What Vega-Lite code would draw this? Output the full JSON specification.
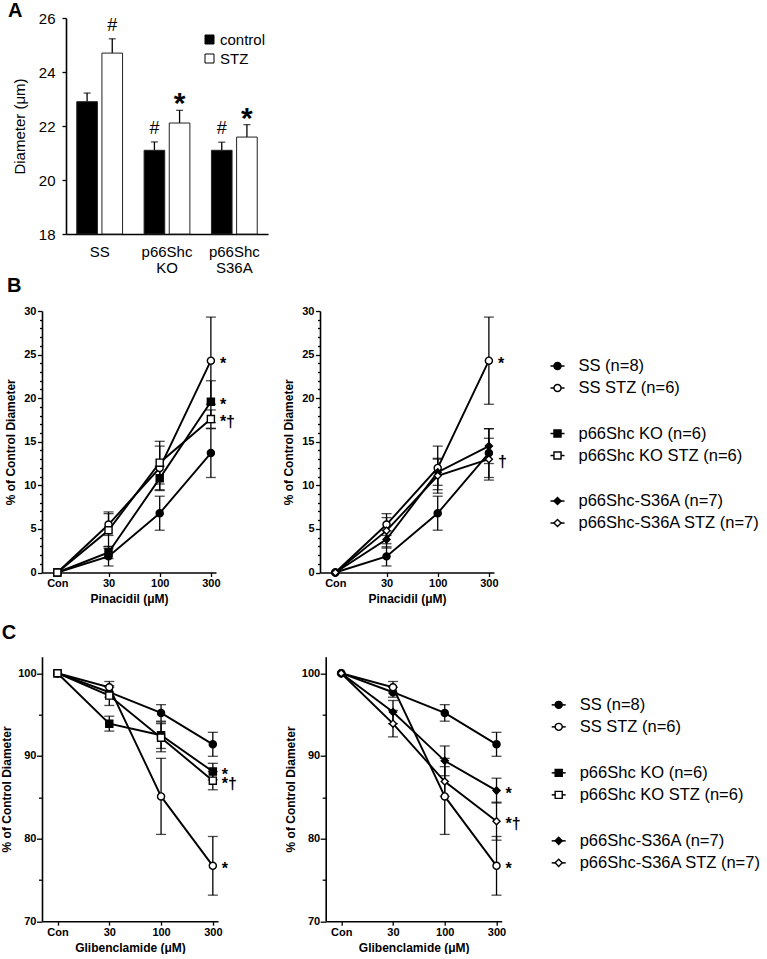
{
  "$schema": "https://vega.github.io/schema/vega-lite/v6.json",
  "background": "white",
  "padding": {"left": 0, "top": 0, "right": 0, "bottom": 0},
  "config": {
    "font": "Liberation Sans",
    "view": {"stroke": null},
    "axis": {"grid": false, "domainColor": "black", "domainWidth": 1.6, "tickColor": "black", "tickWidth": 1.3, "labelColor": "black", "titleColor": "black"},
    "title": {"color": "black", "fontSize": 20, "fontWeight": "bold", "anchor": "start"}
  },
  "datasets": {
    "barA": [
      {"group": "SS", "status": "control", "mean": 22.9, "upper": 23.22, "sig": ""},
      {"group": "SS", "status": "STZ", "mean": 24.7, "upper": 25.23, "sig": "#"},
      {"group": "p66Shc KO", "status": "control", "mean": 21.1, "upper": 21.41, "sig": "#"},
      {"group": "p66Shc KO", "status": "STZ", "mean": 22.11, "upper": 22.58, "sig": "*"},
      {"group": "p66Shc S36A", "status": "control", "mean": 21.1, "upper": 21.4, "sig": "#"},
      {"group": "p66Shc S36A", "status": "STZ", "mean": 21.59, "upper": 22.05, "sig": "*"}
    ],
    "pin": [
      {"strain": "SS", "status": "control", "series": "SS (n=8)", "dose": "Con", "mean": 0, "err": 0, "sig": ""},
      {"strain": "SS", "status": "control", "series": "SS (n=8)", "dose": "30", "mean": 1.85, "err": 1.1, "sig": ""},
      {"strain": "SS", "status": "control", "series": "SS (n=8)", "dose": "100", "mean": 6.8, "err": 1.95, "sig": ""},
      {"strain": "SS", "status": "control", "series": "SS (n=8)", "dose": "300", "mean": 13.7, "err": 2.8, "sig": ""},
      {"strain": "SS", "status": "STZ", "series": "SS STZ (n=6)", "dose": "Con", "mean": 0, "err": 0, "sig": ""},
      {"strain": "SS", "status": "STZ", "series": "SS STZ (n=6)", "dose": "30", "mean": 5.5, "err": 1.25, "sig": ""},
      {"strain": "SS", "status": "STZ", "series": "SS STZ (n=6)", "dose": "100", "mean": 12.0, "err": 2.5, "sig": ""},
      {"strain": "SS", "status": "STZ", "series": "SS STZ (n=6)", "dose": "300", "mean": 24.3, "err": 5.0, "sig": "*"},
      {"strain": "KO", "status": "control", "series": "p66Shc KO (n=6)", "dose": "Con", "mean": 0, "err": 0, "sig": ""},
      {"strain": "KO", "status": "control", "series": "p66Shc KO (n=6)", "dose": "30", "mean": 2.3, "err": 0.7, "sig": ""},
      {"strain": "KO", "status": "control", "series": "p66Shc KO (n=6)", "dose": "100", "mean": 10.8, "err": 1.4, "sig": ""},
      {"strain": "KO", "status": "control", "series": "p66Shc KO (n=6)", "dose": "300", "mean": 19.6, "err": 2.4, "sig": "*"},
      {"strain": "KO", "status": "STZ", "series": "p66Shc KO STZ (n=6)", "dose": "Con", "mean": 0, "err": 0, "sig": ""},
      {"strain": "KO", "status": "STZ", "series": "p66Shc KO STZ (n=6)", "dose": "30", "mean": 4.85, "err": 2.1, "sig": ""},
      {"strain": "KO", "status": "STZ", "series": "p66Shc KO STZ (n=6)", "dose": "100", "mean": 12.6, "err": 2.45, "sig": ""},
      {"strain": "KO", "status": "STZ", "series": "p66Shc KO STZ (n=6)", "dose": "300", "mean": 17.6, "err": 1.05, "sig": "*†"},
      {"strain": "S36A", "status": "control", "series": "p66Shc-S36A (n=7)", "dose": "Con", "mean": 0, "err": 0, "sig": ""},
      {"strain": "S36A", "status": "control", "series": "p66Shc-S36A (n=7)", "dose": "30", "mean": 3.8, "err": 1.0, "sig": ""},
      {"strain": "S36A", "status": "control", "series": "p66Shc-S36A (n=7)", "dose": "100", "mean": 11.5, "err": 1.5, "sig": ""},
      {"strain": "S36A", "status": "control", "series": "p66Shc-S36A (n=7)", "dose": "300", "mean": 14.5, "err": 2.0, "sig": ""},
      {"strain": "S36A", "status": "STZ", "series": "p66Shc-S36A STZ (n=7)", "dose": "Con", "mean": 0, "err": 0, "sig": ""},
      {"strain": "S36A", "status": "STZ", "series": "p66Shc-S36A STZ (n=7)", "dose": "30", "mean": 4.8, "err": 1.5, "sig": ""},
      {"strain": "S36A", "status": "STZ", "series": "p66Shc-S36A STZ (n=7)", "dose": "100", "mean": 11.1, "err": 2.0, "sig": ""},
      {"strain": "S36A", "status": "STZ", "series": "p66Shc-S36A STZ (n=7)", "dose": "300", "mean": 13.0, "err": 2.4, "sig": "†"}
    ],
    "glib": [
      {"strain": "SS", "status": "control", "series": "SS (n=8)", "dose": "Con", "mean": 100, "err": 0, "sig": ""},
      {"strain": "SS", "status": "control", "series": "SS (n=8)", "dose": "30", "mean": 97.7, "err": 0.6, "sig": ""},
      {"strain": "SS", "status": "control", "series": "SS (n=8)", "dose": "100", "mean": 95.2, "err": 1.0, "sig": ""},
      {"strain": "SS", "status": "control", "series": "SS (n=8)", "dose": "300", "mean": 91.4, "err": 1.45, "sig": ""},
      {"strain": "SS", "status": "STZ", "series": "SS STZ (n=6)", "dose": "Con", "mean": 100, "err": 0, "sig": ""},
      {"strain": "SS", "status": "STZ", "series": "SS STZ (n=6)", "dose": "30", "mean": 98.3, "err": 0.7, "sig": ""},
      {"strain": "SS", "status": "STZ", "series": "SS STZ (n=6)", "dose": "100", "mean": 85.1, "err": 4.6, "sig": ""},
      {"strain": "SS", "status": "STZ", "series": "SS STZ (n=6)", "dose": "300", "mean": 76.7, "err": 3.55, "sig": "*"},
      {"strain": "KO", "status": "control", "series": "p66Shc KO (n=6)", "dose": "Con", "mean": 100, "err": 0, "sig": ""},
      {"strain": "KO", "status": "control", "series": "p66Shc KO (n=6)", "dose": "30", "mean": 93.9, "err": 0.9, "sig": ""},
      {"strain": "KO", "status": "control", "series": "p66Shc KO (n=6)", "dose": "100", "mean": 92.5, "err": 1.6, "sig": ""},
      {"strain": "KO", "status": "control", "series": "p66Shc KO (n=6)", "dose": "300", "mean": 88.1, "err": 1.0, "sig": "*"},
      {"strain": "KO", "status": "STZ", "series": "p66Shc KO STZ (n=6)", "dose": "Con", "mean": 100, "err": 0, "sig": ""},
      {"strain": "KO", "status": "STZ", "series": "p66Shc KO STZ (n=6)", "dose": "30", "mean": 97.3, "err": 1.2, "sig": ""},
      {"strain": "KO", "status": "STZ", "series": "p66Shc KO STZ (n=6)", "dose": "100", "mean": 92.2, "err": 1.7, "sig": ""},
      {"strain": "KO", "status": "STZ", "series": "p66Shc KO STZ (n=6)", "dose": "300", "mean": 87.0, "err": 1.1, "sig": "*†"},
      {"strain": "S36A", "status": "control", "series": "p66Shc-S36A (n=7)", "dose": "Con", "mean": 100, "err": 0, "sig": ""},
      {"strain": "S36A", "status": "control", "series": "p66Shc-S36A (n=7)", "dose": "30", "mean": 95.3, "err": 1.4, "sig": ""},
      {"strain": "S36A", "status": "control", "series": "p66Shc-S36A (n=7)", "dose": "100", "mean": 89.4, "err": 1.8, "sig": ""},
      {"strain": "S36A", "status": "control", "series": "p66Shc-S36A (n=7)", "dose": "300", "mean": 85.8, "err": 1.5, "sig": "*"},
      {"strain": "S36A", "status": "STZ", "series": "p66Shc-S36A STZ (n=7)", "dose": "Con", "mean": 100, "err": 0, "sig": ""},
      {"strain": "S36A", "status": "STZ", "series": "p66Shc-S36A STZ (n=7)", "dose": "30", "mean": 93.9, "err": 1.6, "sig": ""},
      {"strain": "S36A", "status": "STZ", "series": "p66Shc-S36A STZ (n=7)", "dose": "100", "mean": 86.9, "err": 1.8, "sig": ""},
      {"strain": "S36A", "status": "STZ", "series": "p66Shc-S36A STZ (n=7)", "dose": "300", "mean": 82.1, "err": 2.3, "sig": "*†"}
    ],
    "leg": [
      {"strain": "SS", "status": "control", "label": "SS (n=8)"},
      {"strain": "SS", "status": "STZ", "label": "SS STZ (n=6)"},
      {"strain": "KO", "status": "control", "label": "p66Shc KO (n=6)"},
      {"strain": "KO", "status": "STZ", "label": "p66Shc KO STZ (n=6)"},
      {"strain": "S36A", "status": "control", "label": "p66Shc-S36A (n=7)"},
      {"strain": "S36A", "status": "STZ", "label": "p66Shc-S36A STZ (n=7)"}
    ]
  },
  "resolve": {"scale": {"fill": "independent"}, "legend": {"fill": "independent"}},
  "columns": 1,
  "align": "none",
  "spacing": 0,
  "concat": [
    {
      "title": {"text": "A", "frame": "group", "dx": -34, "offset": -25.5, "baseline": "alphabetic"},
      "width": 226,
      "height": 216,
      "data": {"name": "barA"},
      "encoding": {
        "x": {"field": "group", "type": "nominal", "sort": ["SS", "p66Shc KO", "p66Shc S36A"], "scale": {"range": [24, 226], "paddingInner": 0.32, "paddingOuter": 0.16}, "axis": {"title": null, "labelAngle": 0, "ticks": false, "tickSize": 0, "labelFontSize": 15, "labelPadding": 10, "labelLineHeight": 16, "labelExpr": "split(datum.label, ' ')"}},
        "xOffset": {"field": "status", "type": "nominal", "sort": ["control", "STZ"], "scale": {"paddingInner": 0.18, "paddingOuter": 0}}
      },
      "layer": [
        {
          "mark": {"type": "rule", "color": "black", "strokeWidth": 1.3},
          "encoding": {
            "y": {"field": "mean", "type": "quantitative", "scale": {"domain": [18, 26], "nice": false, "zero": false}, "axis": {"title": "Diameter (μm)", "offset": -24, "values": [18, 19, 20, 21, 22, 23, 24, 25, 26], "labelExpr": "datum.value % 2 === 0 ? datum.label : ''", "tickSize": 4, "labelFontSize": 15, "labelPadding": 7, "titleFontSize": 15, "titleFontWeight": "normal", "titlePadding": 11, "labelOverlap": false, "labelFlush": false}},
            "y2": {"field": "upper"}
          }
        },
        {
          "mark": {"type": "tick", "orient": "horizontal", "color": "black", "size": 7, "thickness": 1.3},
          "encoding": {"y": {"field": "upper", "type": "quantitative"}}
        },
        {
          "mark": {"type": "bar", "stroke": "#222222", "strokeWidth": 1},
          "encoding": {
            "y": {"field": "mean", "type": "quantitative"},
            "y2": {"datum": 18},
            "fill": {"field": "status", "type": "nominal", "scale": {"domain": ["control", "STZ"], "range": ["black", "white"]}, "legend": {"title": null, "orient": "none", "legendX": 160, "legendY": 14, "padding": 0, "symbolType": "square", "symbolSize": 81, "symbolStrokeColor": "black", "symbolStrokeWidth": 1, "labelFontSize": 15, "labelOffset": 3, "rowPadding": 3, "labelColor": "black"}}
          }
        },
        {
          "transform": [{"filter": "datum.sig === '#'"}],
          "mark": {"type": "text", "fontSize": 18, "baseline": "alphabetic", "dy": -8, "color": "black"},
          "encoding": {"y": {"field": "upper", "type": "quantitative"}, "text": {"field": "sig", "type": "nominal"}}
        },
        {
          "transform": [{"filter": "datum.sig === '*'"}],
          "mark": {"type": "text", "fontSize": 30, "fontWeight": "bold", "baseline": "alphabetic", "dy": 3, "color": "black"},
          "encoding": {"y": {"field": "upper", "type": "quantitative"}, "text": {"field": "sig", "type": "nominal"}}
        }
      ]
    },
    {
      "columns": 1,
      "align": "none",
      "spacing": 17.7,
      "concat": [
        {
          "title": {"text": "B", "dx": 2, "offset": -6.5, "baseline": "alphabetic"},
          "spacing": 46,
          "hconcat": [
            {
              "width": 174,
              "height": 261.5,
              "data": {"name": "pin"},
              "transform": [{"filter": "datum.strain !== 'S36A'"}],
              "encoding": {
                "x": {"field": "dose", "type": "ordinal", "sort": ["Con", "30", "100", "300"], "scale": {"type": "point", "padding": 0.2, "align": 0.75}, "axis": {"title": "Pinacidil (μM)", "labelAngle": 0, "labelFontSize": 11, "labelFontWeight": "bold", "titleFontSize": 12, "titleFontWeight": "bold", "tickSize": 4, "labelPadding": 1, "titlePadding": 5}},
                "y": {"field": "mean", "type": "quantitative", "scale": {"domain": [0, 30], "nice": false, "zero": false}, "axis": {"title": "% of Control Diameter", "values": [0, 1, 2, 3, 4, 5, 6, 7, 8, 9, 10, 11, 12, 13, 14, 15, 16, 17, 18, 19, 20, 21, 22, 23, 24, 25, 26, 27, 28, 29, 30], "labelExpr": "datum.value % 5 === 0 ? datum.label : ''", "tickSize": {"condition": {"test": "datum.value % 5 === 0", "value": 4.5}, "value": 2.5}, "labelFontSize": 11, "labelFontWeight": "bold", "labelPadding": 1.5, "titleFontSize": 12, "titleFontWeight": "bold", "titlePadding": 5.8, "labelOverlap": false, "labelFlush": false}}
              },
              "layer": [
                {"mark": {"type": "line", "color": "black", "strokeWidth": 1.9}, "encoding": {"detail": {"field": "series", "type": "nominal"}, "order": {"value": null}}},
                {"transform": [{"filter": "datum.dose !== 'Con'"}], "mark": {"type": "errorbar", "color": "black", "thickness": 1.3, "ticks": {"size": 10, "thickness": 1.3, "color": "black"}}, "encoding": {"yError": {"field": "err"}}},
                {"mark": {"type": "point", "filled": true, "stroke": "black", "strokeWidth": 1.4, "opacity": 1}, "encoding": {
                  "shape": {"field": "strain", "type": "nominal", "scale": {"domain": ["SS", "KO", "S36A"], "range": ["circle", "square", "diamond"]}, "legend": null},
                  "fill": {"field": "status", "type": "nominal", "scale": {"domain": ["control", "STZ"], "range": ["black", "white"]}, "legend": null},
                  "size": {"field": "strain", "type": "ordinal", "scale": {"domain": ["SS", "KO", "S36A"], "range": [50, 50, 64]}, "legend": null}
                }},
                {"transform": [{"filter": "datum.dose === '300' && datum.sig !== ''"}], "mark": {"type": "text", "align": "left", "baseline": "middle", "dx": 9, "dy": 3, "fontSize": 16, "fontWeight": "bold", "color": "black"}, "encoding": {"text": {"field": "sig", "type": "nominal"}}}
              ]
            },
            {
              "width": 174,
              "height": 261.5,
              "resolve": {"scale": {"x": "independent", "y": "independent"}},
              "layer": [
                {
                  "data": {"name": "pin"},
                  "transform": [{"filter": "datum.strain !== 'KO'"}],
                  "encoding": {
                    "x": {"field": "dose", "type": "ordinal", "sort": ["Con", "30", "100", "300"], "scale": {"type": "point", "padding": 0.2, "align": 0.75}, "axis": {"title": "Pinacidil (μM)", "labelAngle": 0, "labelFontSize": 11, "labelFontWeight": "bold", "titleFontSize": 12, "titleFontWeight": "bold", "tickSize": 4, "labelPadding": 1, "titlePadding": 5}},
                    "y": {"field": "mean", "type": "quantitative", "scale": {"domain": [0, 30], "nice": false, "zero": false}, "axis": {"title": "% of Control Diameter", "values": [0, 1, 2, 3, 4, 5, 6, 7, 8, 9, 10, 11, 12, 13, 14, 15, 16, 17, 18, 19, 20, 21, 22, 23, 24, 25, 26, 27, 28, 29, 30], "labelExpr": "datum.value % 5 === 0 ? datum.label : ''", "tickSize": {"condition": {"test": "datum.value % 5 === 0", "value": 4.5}, "value": 2.5}, "labelFontSize": 11, "labelFontWeight": "bold", "labelPadding": 1.5, "titleFontSize": 12, "titleFontWeight": "bold", "titlePadding": 5.8, "labelOverlap": false, "labelFlush": false}}
                  },
                  "layer": [
                    {"mark": {"type": "line", "color": "black", "strokeWidth": 1.9}, "encoding": {"detail": {"field": "series", "type": "nominal"}, "order": {"value": null}}},
                    {"transform": [{"filter": "datum.dose !== 'Con'"}], "mark": {"type": "errorbar", "color": "black", "thickness": 1.3, "ticks": {"size": 10, "thickness": 1.3, "color": "black"}}, "encoding": {"yError": {"field": "err"}}},
                    {"mark": {"type": "point", "filled": true, "stroke": "black", "strokeWidth": 1.4, "opacity": 1}, "encoding": {
                      "shape": {"field": "strain", "type": "nominal", "scale": {"domain": ["SS", "KO", "S36A"], "range": ["circle", "square", "diamond"]}, "legend": null},
                      "fill": {"field": "status", "type": "nominal", "scale": {"domain": ["control", "STZ"], "range": ["black", "white"]}, "legend": null},
                      "size": {"field": "strain", "type": "ordinal", "scale": {"domain": ["SS", "KO", "S36A"], "range": [50, 50, 64]}, "legend": null}
                    }},
                    {"transform": [{"filter": "datum.dose === '300' && datum.sig !== ''"}], "mark": {"type": "text", "align": "left", "baseline": "middle", "dx": 9, "dy": 3, "fontSize": 16, "fontWeight": "bold", "color": "black"}, "encoding": {"text": {"field": "sig", "type": "nominal"}}}
                  ]
                },
                {
                  "data": {"name": "leg"},
                  "encoding": {
                    "y": {"field": "strain", "type": "nominal", "sort": ["SS", "KO", "S36A"], "scale": {"type": "band", "paddingInner": 0, "paddingOuter": 0.437, "align": 0.547}, "axis": null},
                    "yOffset": {"field": "status", "type": "nominal", "sort": ["control", "STZ"], "scale": {"type": "band", "paddingInner": 0, "paddingOuter": 0.534}}
                  },
                  "layer": [
                    {"mark": {"type": "point", "shape": "M-1,0L1,0", "size": 196, "filled": false, "stroke": "black", "strokeWidth": 1.5, "opacity": 1}, "encoding": {"x": {"datum": 0, "type": "quantitative", "scale": {"domain": [-11.31, -3.024], "nice": false, "zero": false}, "axis": null}}},
                    {"mark": {"type": "point", "filled": true, "stroke": "black", "strokeWidth": 1.4, "opacity": 1}, "encoding": {
                      "x": {"datum": 0, "type": "quantitative", "scale": {"domain": [-11.31, -3.024], "nice": false, "zero": false}, "axis": null},
                      "shape": {"field": "strain", "type": "nominal", "scale": {"domain": ["SS", "KO", "S36A"], "range": ["circle", "square", "diamond"]}, "legend": null},
                      "fill": {"field": "status", "type": "nominal", "scale": {"domain": ["control", "STZ"], "range": ["black", "white"]}, "legend": null},
                      "size": {"field": "strain", "type": "ordinal", "scale": {"domain": ["SS", "KO", "S36A"], "range": [50, 50, 64]}, "legend": null}
                    }},
                    {"mark": {"type": "text", "align": "left", "baseline": "middle", "fontSize": 16.5, "color": "black"}, "encoding": {"x": {"datum": 1, "type": "quantitative", "scale": {"domain": [-11.31, -3.024], "nice": false, "zero": false}, "axis": null}, "text": {"field": "label", "type": "nominal"}}}
                  ]
                }
              ]
            }
          ]
        },
        {
          "title": {"text": "C", "dx": 1, "offset": -2, "baseline": "alphabetic"},
          "spacing": 46.7,
          "hconcat": [
            {
              "width": 176,
              "height": 264.5,
              "data": {"name": "glib"},
              "transform": [{"filter": "datum.strain !== 'S36A'"}],
              "encoding": {
                "x": {"field": "dose", "type": "ordinal", "sort": ["Con", "30", "100", "300"], "scale": {"type": "point", "padding": 0.2, "align": 0.75}, "axis": {"title": "Glibenclamide (μM)", "labelAngle": 0, "labelFontSize": 11, "labelFontWeight": "bold", "titleFontSize": 12, "titleFontWeight": "bold", "tickSize": 4, "labelPadding": 1, "titlePadding": 5}},
                "y": {"field": "mean", "type": "quantitative", "scale": {"domain": [70, 102], "nice": false, "zero": false}, "axis": {"title": "% of Control Diameter", "values": [70, 75, 80, 85, 90, 95, 100], "labelExpr": "datum.value % 10 === 0 ? datum.label : ''", "tickSize": {"condition": {"test": "datum.value % 10 === 0", "value": 5.5}, "value": 3.5}, "labelFontSize": 11, "labelFontWeight": "bold", "labelPadding": 0.5, "titleFontSize": 12, "titleFontWeight": "bold", "titlePadding": 4, "labelOverlap": false, "labelFlush": false}}
              },
              "layer": [
                {"mark": {"type": "line", "color": "black", "strokeWidth": 1.9}, "encoding": {"detail": {"field": "series", "type": "nominal"}, "order": {"value": null}}},
                {"transform": [{"filter": "datum.dose !== 'Con'"}], "mark": {"type": "errorbar", "color": "black", "thickness": 1.3, "ticks": {"size": 10, "thickness": 1.3, "color": "black"}}, "encoding": {"yError": {"field": "err"}}},
                {"mark": {"type": "point", "filled": true, "stroke": "black", "strokeWidth": 1.4, "opacity": 1}, "encoding": {
                  "shape": {"field": "strain", "type": "nominal", "scale": {"domain": ["SS", "KO", "S36A"], "range": ["circle", "square", "diamond"]}, "legend": null},
                  "fill": {"field": "status", "type": "nominal", "scale": {"domain": ["control", "STZ"], "range": ["black", "white"]}, "legend": null},
                  "size": {"field": "strain", "type": "ordinal", "scale": {"domain": ["SS", "KO", "S36A"], "range": [50, 50, 64]}, "legend": null}
                }},
                {"transform": [{"filter": "datum.dose === '300' && datum.sig !== ''"}], "mark": {"type": "text", "align": "left", "baseline": "middle", "dx": 9, "dy": 3, "fontSize": 16, "fontWeight": "bold", "color": "black"}, "encoding": {"text": {"field": "sig", "type": "nominal"}}}
              ]
            },
            {
              "width": 176,
              "height": 264.5,
              "resolve": {"scale": {"x": "independent", "y": "independent"}},
              "layer": [
                {
                  "data": {"name": "glib"},
                  "transform": [{"filter": "datum.strain !== 'KO'"}],
                  "encoding": {
                    "x": {"field": "dose", "type": "ordinal", "sort": ["Con", "30", "100", "300"], "scale": {"type": "point", "padding": 0.2, "align": 0.75}, "axis": {"title": "Glibenclamide (μM)", "labelAngle": 0, "labelFontSize": 11, "labelFontWeight": "bold", "titleFontSize": 12, "titleFontWeight": "bold", "tickSize": 4, "labelPadding": 1, "titlePadding": 5}},
                    "y": {"field": "mean", "type": "quantitative", "scale": {"domain": [70, 102], "nice": false, "zero": false}, "axis": {"title": "% of Control Diameter", "values": [70, 75, 80, 85, 90, 95, 100], "labelExpr": "datum.value % 10 === 0 ? datum.label : ''", "tickSize": {"condition": {"test": "datum.value % 10 === 0", "value": 5.5}, "value": 3.5}, "labelFontSize": 11, "labelFontWeight": "bold", "labelPadding": 0.5, "titleFontSize": 12, "titleFontWeight": "bold", "titlePadding": 4, "labelOverlap": false, "labelFlush": false}}
                  },
                  "layer": [
                    {"mark": {"type": "line", "color": "black", "strokeWidth": 1.9}, "encoding": {"detail": {"field": "series", "type": "nominal"}, "order": {"value": null}}},
                    {"transform": [{"filter": "datum.dose !== 'Con'"}], "mark": {"type": "errorbar", "color": "black", "thickness": 1.3, "ticks": {"size": 10, "thickness": 1.3, "color": "black"}}, "encoding": {"yError": {"field": "err"}}},
                    {"mark": {"type": "point", "filled": true, "stroke": "black", "strokeWidth": 1.4, "opacity": 1}, "encoding": {
                      "shape": {"field": "strain", "type": "nominal", "scale": {"domain": ["SS", "KO", "S36A"], "range": ["circle", "square", "diamond"]}, "legend": null},
                      "fill": {"field": "status", "type": "nominal", "scale": {"domain": ["control", "STZ"], "range": ["black", "white"]}, "legend": null},
                      "size": {"field": "strain", "type": "ordinal", "scale": {"domain": ["SS", "KO", "S36A"], "range": [50, 50, 64]}, "legend": null}
                    }},
                    {"transform": [{"filter": "datum.dose === '300' && datum.sig !== ''"}], "mark": {"type": "text", "align": "left", "baseline": "middle", "dx": 9, "dy": 3, "fontSize": 16, "fontWeight": "bold", "color": "black"}, "encoding": {"text": {"field": "sig", "type": "nominal"}}}
                  ]
                },
                {
                  "data": {"name": "leg"},
                  "encoding": {
                    "y": {"field": "strain", "type": "nominal", "sort": ["SS", "KO", "S36A"], "scale": {"type": "band", "paddingInner": 0, "paddingOuter": 0.445, "align": 0.42}, "axis": null},
                    "yOffset": {"field": "status", "type": "nominal", "sort": ["control", "STZ"], "scale": {"type": "band", "paddingInner": 0, "paddingOuter": 0.534}}
                  },
                  "layer": [
                    {"mark": {"type": "point", "shape": "M-1,0L1,0", "size": 196, "filled": false, "stroke": "black", "strokeWidth": 1.5, "opacity": 1}, "encoding": {"x": {"datum": 0, "type": "quantitative", "scale": {"domain": [-11.095, -2.714], "nice": false, "zero": false}, "axis": null}}},
                    {"mark": {"type": "point", "filled": true, "stroke": "black", "strokeWidth": 1.4, "opacity": 1}, "encoding": {
                      "x": {"datum": 0, "type": "quantitative", "scale": {"domain": [-11.095, -2.714], "nice": false, "zero": false}, "axis": null},
                      "shape": {"field": "strain", "type": "nominal", "scale": {"domain": ["SS", "KO", "S36A"], "range": ["circle", "square", "diamond"]}, "legend": null},
                      "fill": {"field": "status", "type": "nominal", "scale": {"domain": ["control", "STZ"], "range": ["black", "white"]}, "legend": null},
                      "size": {"field": "strain", "type": "ordinal", "scale": {"domain": ["SS", "KO", "S36A"], "range": [50, 50, 64]}, "legend": null}
                    }},
                    {"mark": {"type": "text", "align": "left", "baseline": "middle", "fontSize": 16.5, "color": "black"}, "encoding": {"x": {"datum": 1, "type": "quantitative", "scale": {"domain": [-11.095, -2.714], "nice": false, "zero": false}, "axis": null}, "text": {"field": "label", "type": "nominal"}}}
                  ]
                }
              ]
            }
          ]
        }
      ]
    }
  ]
}
